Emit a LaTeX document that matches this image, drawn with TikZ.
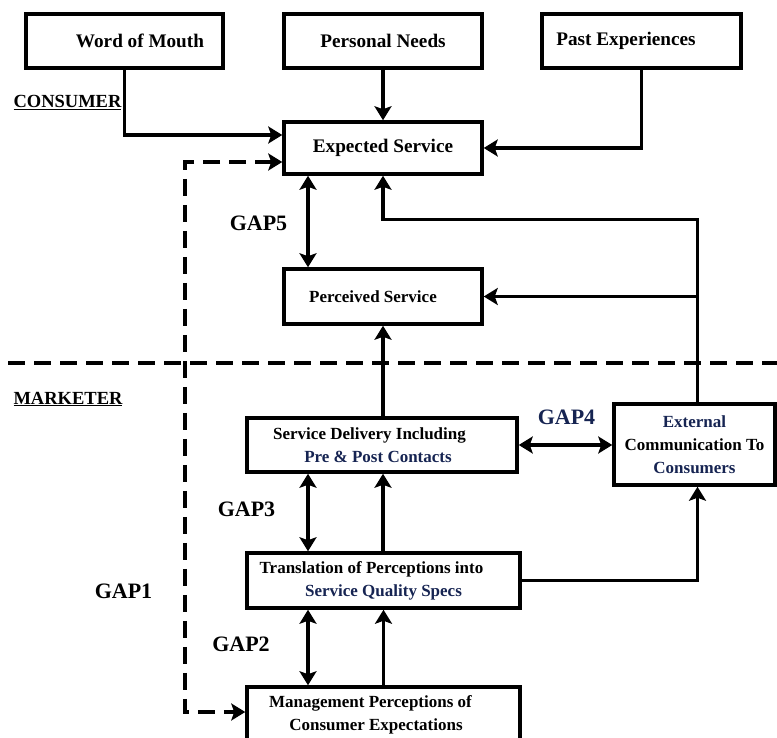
\documentclass[tikz,border=0pt]{standalone}
\usepackage{fontspec}
\setmainfont{Liberation Serif}
\usetikzlibrary{arrows.meta}
\definecolor{navytxt}{RGB}{22,36,82}
\begin{document}
\begin{tikzpicture}[x=1pt,y=-1pt,
  box/.style={draw, line width=3.5pt, inner sep=0pt, align=center, font=\fontsize{17}{23}\selectfont\bfseries},
  topbox/.style={box, font=\fontsize{19.2}{23}\selectfont\bfseries},
  tip/.style={},
  arr/.style={line width=3.5pt, -{Stealth[length=14pt,width=17pt,inset=3pt]}},
  darr/.style={line width=3.5pt, {Stealth[length=14pt,width=17pt,inset=3pt]}-{Stealth[length=14pt,width=17pt,inset=3pt]}},
  dashline/.style={line width=3.5pt, dash pattern=on 17pt off 9pt},
  gaplbl/.style={font=\fontsize{22}{26}\selectfont\bfseries, anchor=base},
  sidelbl/.style={font=\fontsize{18.5}{22}\selectfont\bfseries, anchor=base west}
]
\useasboundingbox (0,0) rectangle (777,738);

% boxes
\node[topbox, minimum width=197pt, minimum height=54pt] (wom) at (124.5,41) {\makebox[31pt]{}Word of Mouth};
\node[topbox, minimum width=198pt, minimum height=54pt] (pn) at (383,41) {Personal Needs};
\node[topbox, minimum width=199pt, minimum height=54pt] (pe) at (641.5,41) {Past Experiences\makebox[31pt]{}};
\node[topbox, minimum width=198pt, minimum height=52pt] (exp) at (383,148) {Expected Service};
\node[box, minimum width=198pt, minimum height=55pt] (perc) at (383,296.5) {Perceived Service\makebox[20pt]{}};
\node[box, minimum width=270pt, minimum height=54pt] (sd) at (382,445) {Service Delivery Including\makebox[25pt]{}\\\textcolor{navytxt}{Pre \& Post Contacts}\makebox[8pt]{}};
\node[box, minimum width=161pt, minimum height=81pt] (ext) at (694.5,444.5) {\textcolor{navytxt}{External}\\Communication To\\\textcolor{navytxt}{Consumers}};
\node[box, minimum width=273pt, minimum height=55pt] (trans) at (383.5,580.5) {Translation of Perceptions into\makebox[24pt]{}\\\textcolor{navytxt}{Service Quality Specs}};
\node[box, minimum width=273pt, minimum height=55pt] (mgmt) at (383.5,714.5) {Management Perceptions of\makebox[26pt]{}\\Consumer Expectations\makebox[15pt]{}};

% side labels
\node[sidelbl] (consumer) at (10,108) {\underline{CONSUMER}};
\node[sidelbl] (marketer) at (10,404) {\underline{MARKETER}};

% gap labels
\node[gaplbl] (gap5) at (258.5,231) {GAP5};
\node[gaplbl, text=navytxt] (gap4) at (566.5,424) {GAP4};
\node[gaplbl] (gap3) at (246.5,516) {GAP3};
\node[gaplbl] (gap2) at (241,651) {GAP2};
\node[gaplbl] (gap1) at (123.5,598) {GAP1};

% divider
\coordinate (dl1) at (8,363);
\coordinate (dl2) at (777,363);
\draw[dashline] (dl1) -- (dl2);

% consumer side connectors
\draw[arr] (wom.south) |- ([yshift=13pt]exp.west);
\draw[arr] (pn.south) -- (exp.north);
\draw[arr] (pe.south) |- (exp.east);
\draw[darr] ([xshift=-75pt]exp.south) -- ([xshift=-75pt]perc.north);

% external communication feedback
\draw[arr] ([xshift=3pt]ext.north) |- ([yshift=-44pt]exp.south) -- (exp.south);
\draw[arr] ([xshift=3pt]ext.north) |- (perc.east);

% marketer side connectors
\draw[arr] (perc.south |- sd.north) -- (perc.south);
\draw[darr] (sd.east) -- (sd.east -| ext.west);
\draw[darr] ([xshift=-74pt]sd.south) -- ([xshift=-75.5pt]trans.north);
\draw[arr] (trans.north -| perc.south) -- (sd.south -| perc.south);
\draw[arr] (trans.east) -| ([xshift=3pt]ext.south);
\draw[darr] ([xshift=-75.5pt]trans.south) -- ([xshift=-75.5pt]mgmt.north);
\draw[arr] (mgmt.north) -- (trans.south);

% GAP1 dashed connector
\coordinate (dc) at (185,712);
\draw[dashline, {Stealth[length=14pt,width=17pt,inset=3pt]}-{Stealth[length=14pt,width=17pt,inset=3pt]}]
  ([yshift=-14pt]exp.west) -| (dc) -- (mgmt.west |- dc);
\end{tikzpicture}
\end{document}
